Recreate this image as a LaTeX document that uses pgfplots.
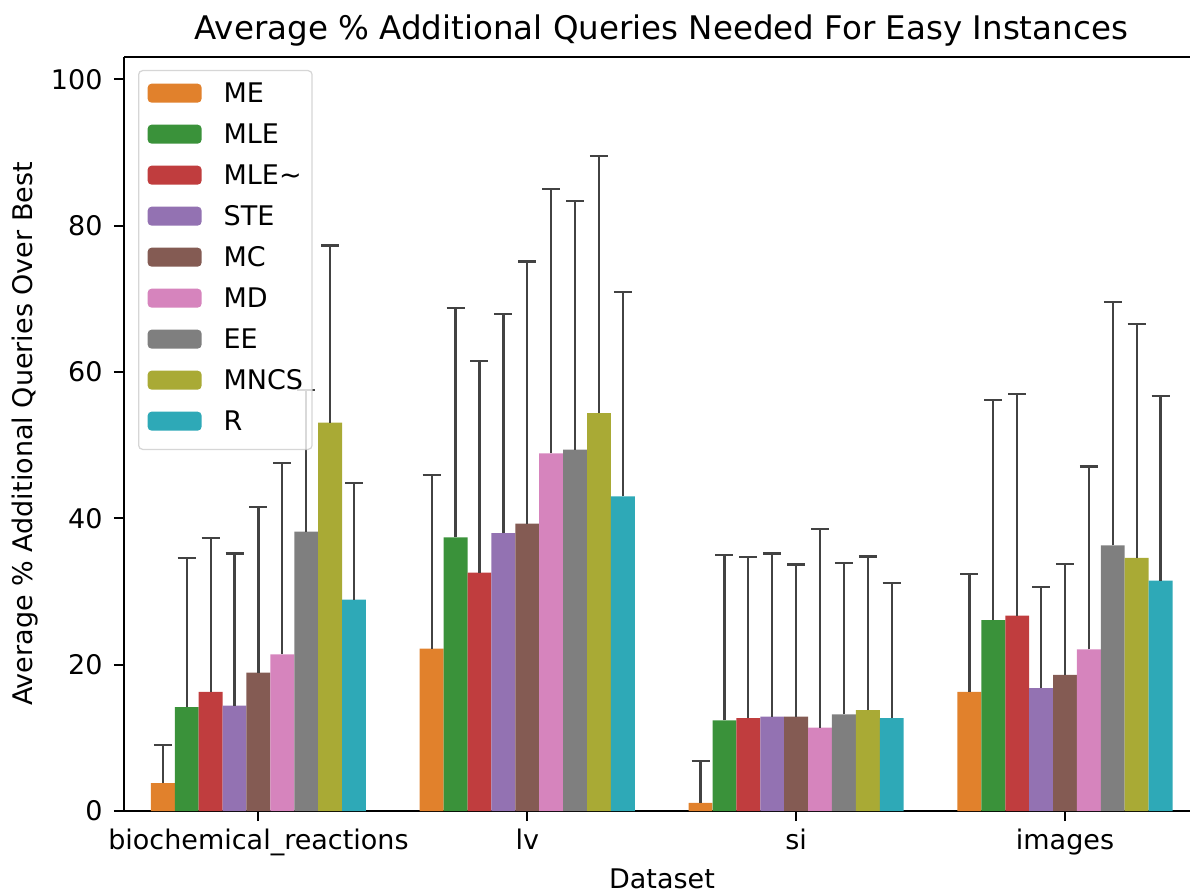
\documentclass[border=0pt]{standalone}
\usepackage{pgfplots}
\pgfplotsset{compat=1.18}
\usepackage{pgfplotstable}
\usepackage{fontspec}
\setmainfont{DejaVu Sans}

\definecolor{cME}{HTML}{E1812C}
\definecolor{cMLE}{HTML}{3A923A}
\definecolor{cMLEt}{HTML}{C03D3E}
\definecolor{cSTE}{HTML}{9372B2}
\definecolor{cMC}{HTML}{845B53}
\definecolor{cMD}{HTML}{D684BD}
\definecolor{cEE}{HTML}{7F7F7F}
\definecolor{cMNCS}{HTML}{A9AA35}
\definecolor{cR}{HTML}{2EA9B7}
\definecolor{errgray}{HTML}{424242}

% x: 0 biochemical_reactions, 1 lv, 2 si, 3 images; y = mean; e = upper error
\pgfplotstableread{
x y e
0 3.8 5.2
1 22.2 23.7
2 1.1 5.7
3 16.3 16.1
}\tME
\pgfplotstableread{
x y e
0 14.2 20.4
1 37.4 31.4
2 12.4 22.6
3 26.1 30.1
}\tMLE
\pgfplotstableread{
x y e
0 16.3 21.0
1 32.6 28.9
2 12.7 22.0
3 26.7 30.3
}\tMLEt
\pgfplotstableread{
x y e
0 14.4 20.8
1 38.0 29.9
2 12.9 22.3
3 16.8 13.8
}\tSTE
\pgfplotstableread{
x y e
0 18.9 22.7
1 39.3 35.8
2 12.9 20.8
3 18.6 15.2
}\tMC
\pgfplotstableread{
x y e
0 21.4 26.2
1 48.9 36.1
2 11.4 27.1
3 22.1 25.0
}\tMD
\pgfplotstableread{
x y e
0 38.2 19.3
1 49.4 34.0
2 13.2 20.7
3 36.3 33.3
}\tEE
\pgfplotstableread{
x y e
0 53.1 24.2
1 54.4 35.1
2 13.8 21.0
3 34.6 32.0
}\tMNCS
\pgfplotstableread{
x y e
0 28.9 15.9
1 43.0 27.9
2 12.7 18.5
3 31.5 25.2
}\tR

\begin{document}
\begin{tikzpicture}
\begin{axis}[
  name=ax, set layers,
  scale only axis, width=426.4pt, height=301.6pt,
  xmin=-0.5, xmax=3.465, ymin=0, ymax=103.07,
  axis lines=left,
  axis line style={-, line width=0.8pt, black},
  ybar, bar width=0.08889,
  xtick={0,1,2,3},
  xticklabels={biochemical\_reactions, lv, si, images},
  ytick={0,20,40,60,80,100},
  tick align=outside, major tick length=4pt,
  tick style={line width=0.8pt, black},
  /pgf/number format/assume math mode=true,
  tick label style={font=\fontsize{10.8}{13}\selectfont},
  yticklabel style={inner sep=0pt, xshift=-4.4pt},
  xticklabel style={inner sep=0pt, yshift=-3pt},
  title={Average \% Additional Queries Needed For Easy Instances},
  title style={font=\fontsize{13}{15}\selectfont, at={(axis description cs:0.504,1)}, anchor=base, yshift=0.8pt, inner sep=0pt},
  xlabel={Dataset},
  xlabel style={font=\fontsize{10.8}{13}\selectfont, at={(axis description cs:0.5047,0)}, anchor=north, yshift=-22.8pt, inner sep=0pt},
  ylabel={Average \% Additional Queries Over Best},
  ylabel style={font=\fontsize{10.8}{13}\selectfont, at={(axis description cs:-0.0797,0.5)}, anchor=south, inner sep=0pt},
  error bars/y dir=plus,
  error bars/y explicit,
  error bars/error mark=|,
  error bars/error bar style={color=errgray, line width=0.9pt},
  error bars/error mark options={color=errgray, line width=0.9pt, mark size=3.6pt},
  legend image code/.code={\path[draw=none, fill=none] (0pt,-2.66pt) rectangle (30.4pt,4.94pt); \fill[#1, fill opacity=1] (0pt,-2.66pt) rectangle (21.6pt,4.94pt);},
  legend style={at={(0,1)}, anchor=north west, xshift=5.6pt, yshift=-5.2pt,
    draw=black!20, fill=white, fill opacity=0.8, draw opacity=0.8, text opacity=1,
    rounded corners=1.6pt, line width=0.5pt,
    inner xsep=3.6pt, inner ysep=4.9pt,
    font=\fontsize{10.8}{13}\selectfont,
    row sep=5.9pt,
    nodes={inner sep=0pt, text height=7.9pt, text depth=2.6pt},
    cells={anchor=west}},
]
\addplot[fill=cME, draw=none, bar shift=-0.35556] table[x=x, y=y, y error plus=e] {\tME};
\addplot[fill=cMLE, draw=none, bar shift=-0.26667] table[x=x, y=y, y error plus=e] {\tMLE};
\addplot[fill=cMLEt, draw=none, bar shift=-0.17778] table[x=x, y=y, y error plus=e] {\tMLEt};
\addplot[fill=cSTE, draw=none, bar shift=-0.08889] table[x=x, y=y, y error plus=e] {\tSTE};
\addplot[fill=cMC, draw=none, bar shift=0] table[x=x, y=y, y error plus=e] {\tMC};
\addplot[fill=cMD, draw=none, bar shift=0.08889] table[x=x, y=y, y error plus=e] {\tMD};
\addplot[fill=cEE, draw=none, bar shift=0.17778] table[x=x, y=y, y error plus=e] {\tEE};
\addplot[fill=cMNCS, draw=none, bar shift=0.26667] table[x=x, y=y, y error plus=e] {\tMNCS};
\addplot[fill=cR, draw=none, bar shift=0.35556] table[x=x, y=y, y error plus=e] {\tR};
\legend{ME, MLE, MLE\textasciitilde, STE, MC, MD, EE, MNCS, R}
\end{axis}
\draw[line width=0.8pt, black] (ax.north west) -- (ax.north east);
\pgfresetboundingbox
\path[use as bounding box] ([xshift=-49.6pt,yshift=-32.4pt]ax.south west) rectangle ([yshift=22.8pt]ax.north east);
\end{tikzpicture}
\end{document}
